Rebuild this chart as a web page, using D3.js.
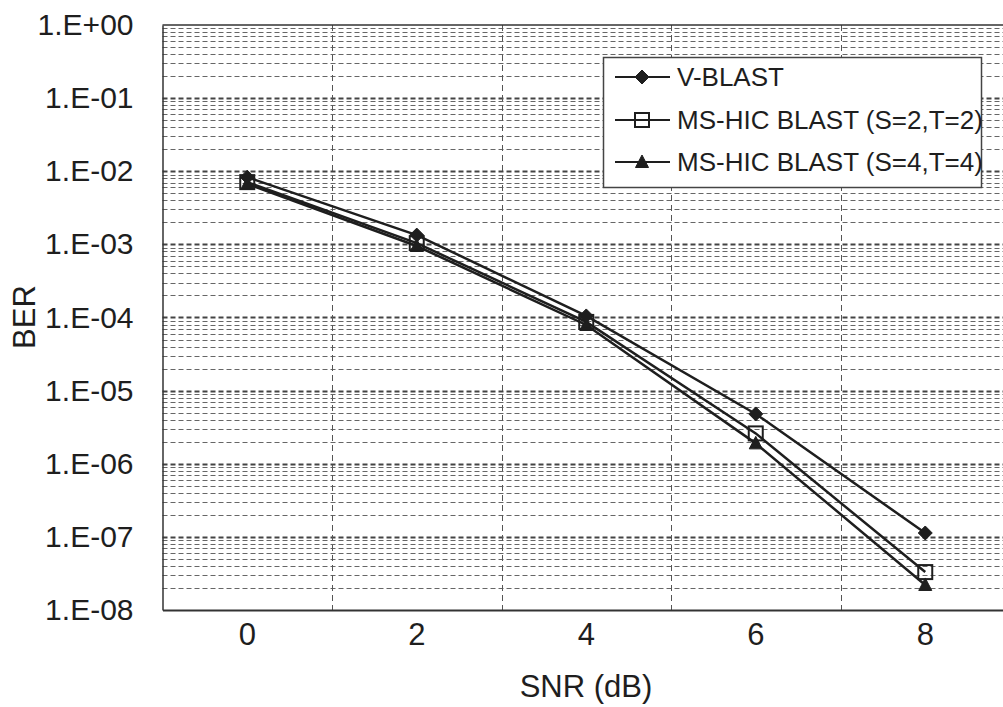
<!DOCTYPE html>
<html>
<head>
<meta charset="utf-8">
<script src="https://cdn.jsdelivr.net/npm/d3@7"></script>
<style>
  html, body { margin: 0; padding: 0; background: #fff; overflow: hidden; }
  svg { display: block; font-family: "Liberation Sans", Arial, sans-serif; }
</style>
</head>
<body>
<svg id="chart" width="1003" height="707"></svg>
<script>
// ---- data ----
const categories = ["0", "2", "4", "6", "8"];
const vblast   = [8.3e-3, 1.34e-3, 1.05e-4, 4.8e-6, 1.13e-7];
const mshic22  = [7.1e-3, 1.04e-3, 8.7e-5, 2.6e-6, 3.3e-8];
const mshic44  = [6.7e-3, 9.5e-4, 7.9e-5, 1.9e-6, 2.2e-8];
const seriesNames = ["V-BLAST", "MS-HIC BLAST (S=2,T=2)", "MS-HIC BLAST (S=4,T=4)"];
const markerTypes = ["diamond", "square", "triangle"];
const yTickValues = [1, 1e-1, 1e-2, 1e-3, 1e-4, 1e-5, 1e-6, 1e-7, 1e-8];
const yTickLabels = ["1.E+00", "1.E-01", "1.E-02", "1.E-03", "1.E-04", "1.E-05", "1.E-06", "1.E-07", "1.E-08"];
const xTitle = "SNR (dB)";
const yTitle = "BER";

const series = [vblast, mshic22, mshic44].map((vals, i) => ({
  name: seriesNames[i], marker: markerTypes[i],
  points: categories.map((c, j) => ({ c, v: vals[j] }))
}));

// ---- layout ----
const svg = d3.select("#chart");
const pL = 162.5, pT = 25, pB = 610, pR = 1010;
const ink = "#1e1e1e";

const x = d3.scaleBand().domain(categories).range([pL, pR]);
const y = d3.scaleLog().domain([1, 1e-8]).range([pT, pB]);

// plot background
svg.append("rect").attr("x", pL).attr("y", pT)
  .attr("width", pR - pL).attr("height", pB - pT).attr("fill", "#fff");

// horizontal gridlines (minor + major)
const allTicks = y.ticks();
const isMajor = t => yTickValues.some(m => Math.abs(Math.log10(t) - Math.log10(m)) < 1e-9);
const grid = svg.append("g");
grid.selectAll("line.minor")
  .data(allTicks.filter(t => !isMajor(t)))
  .join("line").attr("class", "minor")
  .attr("x1", pL).attr("x2", pR)
  .attr("y1", d => Math.round(y(d)) + 0.5).attr("y2", d => Math.round(y(d)) + 0.5)
  .attr("stroke", "#666").attr("stroke-width", 1).attr("stroke-dasharray", "5,3");
grid.selectAll("line.major")
  .data(yTickValues.slice(1, -1))
  .join("line").attr("class", "major")
  .attr("x1", pL).attr("x2", pR)
  .attr("y1", d => Math.round(y(d)) + 0.5).attr("y2", d => Math.round(y(d)) + 0.5)
  .attr("stroke", "#444").attr("stroke-width", 1.8).attr("stroke-dasharray", "5,3");

// vertical gridlines at category boundaries
grid.selectAll("line.v")
  .data(categories.slice(1))
  .join("line").attr("class", "v")
  .attr("x1", d => Math.round(x(d)) + 0.5).attr("x2", d => Math.round(x(d)) + 0.5)
  .attr("y1", pT).attr("y2", pB)
  .attr("stroke", "#555").attr("stroke-width", 1).attr("stroke-dasharray", "6,4");

// top border
svg.append("line").attr("x1", pL).attr("x2", pR).attr("y1", pT).attr("y2", pT)
  .attr("stroke", "#333").attr("stroke-width", 1.5);

// y axis
const yAxis = svg.append("g").attr("transform", `translate(${pL},0)`)
  .call(d3.axisLeft(y).tickValues(yTickValues)
    .tickFormat((d, i) => yTickLabels[i]).tickSize(0).tickPadding(29));
yAxis.select(".domain").attr("stroke", "#333").attr("stroke-width", 1.5);
yAxis.selectAll("text").attr("font-size", 30).attr("fill", ink)
  .attr("font-family", "'Liberation Sans', Arial, sans-serif");

// x axis
const xAxis = svg.append("g").attr("transform", `translate(0,${pB})`)
  .call(d3.axisBottom(x).tickSize(0).tickPadding(13));
xAxis.select(".domain").attr("stroke", "#333").attr("stroke-width", 2);
xAxis.selectAll("text").attr("font-size", 31).attr("fill", ink)
  .attr("font-family", "'Liberation Sans', Arial, sans-serif");

// axis titles
svg.append("text").attr("x", 586).attr("y", 697).attr("text-anchor", "middle")
  .attr("font-size", 31).attr("fill", ink).text(xTitle);
svg.append("text").attr("transform", "translate(35,317) rotate(-90)")
  .attr("text-anchor", "middle").attr("font-size", 31).attr("fill", ink).text(yTitle);

// marker drawing
function drawMarker(g, type, cx, cy) {
  if (type === "diamond") {
    g.append("path").attr("d", `M${cx},${cy - 7}L${cx + 7},${cy}L${cx},${cy + 7}L${cx - 7},${cy}Z`)
      .attr("fill", ink).attr("stroke", ink).attr("stroke-width", 1);
  } else if (type === "square") {
    g.append("rect").attr("x", cx - 7).attr("y", cy - 7).attr("width", 14).attr("height", 14)
      .attr("fill", "none").attr("stroke", ink).attr("stroke-width", 2);
  } else {
    g.append("path").attr("d", `M${cx},${cy - 7}L${cx + 6.5},${cy + 5.5}L${cx - 6.5},${cy + 5.5}Z`)
      .attr("fill", ink).attr("stroke", ink).attr("stroke-width", 1);
  }
}

const cxOf = d => x(d.c) + x.bandwidth() / 2;
const line = d3.line().x(cxOf).y(d => y(d.v));

// lines (drawn in reverse so V-BLAST is on top)
series.slice().reverse().forEach(s => {
  svg.append("path").datum(s.points).attr("d", line)
    .attr("fill", "none").attr("stroke", ink).attr("stroke-width", 2.5);
});
series.slice().reverse().forEach(s => {
  const g = svg.append("g");
  s.points.forEach(p => drawMarker(g, s.marker, cxOf(p), y(p.v)));
});

// legend
const lg = svg.append("g");
lg.append("rect").attr("x", 603.5).attr("y", 57.5).attr("width", 378).attr("height", 130)
  .attr("fill", "#fff").attr("stroke", "#444").attr("stroke-width", 1.5);
const rowY = [77, 120, 162];
series.forEach((s, i) => {
  const yy = rowY[i];
  lg.append("line").attr("x1", 615).attr("x2", 670).attr("y1", yy).attr("y2", yy)
    .attr("stroke", ink).attr("stroke-width", 2.2);
  drawMarker(lg, s.marker, 642, yy);
  lg.append("text").attr("x", 677).attr("y", yy).attr("dy", "0.36em")
    .attr("font-size", 26).attr("fill", ink).text(s.name);
});
</script>
</body>
</html>
